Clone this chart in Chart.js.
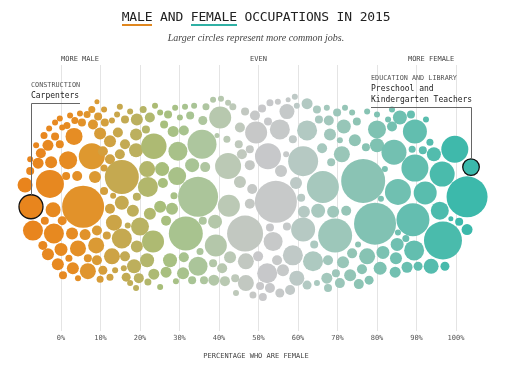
<!DOCTYPE html>
<html>
<head>
<meta charset="utf-8">
<script src="https://cdn.jsdelivr.net/npm/chart.js@4/dist/chart.umd.min.js"></script>
<style>
  body { margin: 0; background: #fff; }
  #wrap { position: relative; width: 512px; height: 375px; overflow: hidden; }
  #c { position: absolute; left: 0; top: 0; }
  .title { position: absolute; left: 0; width: 512px; top: 9px; text-align: center;
           font: 13px "DejaVu Sans Mono", monospace; color: #222; letter-spacing: -0.15px; }
  .title .m { border-bottom: 2px solid #e0871f; }
  .title .f { border-bottom: 2px solid #2fb0a4; }
  .sub { position: absolute; left: 0; width: 512px; top: 32px; text-align: center;
         font: italic 10px "Liberation Serif", serif; color: #444; }
</style>
</head>
<body>
<div id="wrap">
  <canvas id="c" width="512" height="375"></canvas>
  <div class="title"><span class="m">MALE</span> AND <span class="f">FEMALE</span> OCCUPATIONS IN 2015</div>
  <div class="sub">Larger circles represent more common jobs.</div>
</div>
<script>
// x = percentage who are female, y = vertical position in the swarm, r = job size
// first two entries are the labelled jobs (Carpenters, Preschool and Kindergarten Teachers)
var pctFemale = [
  -7.6, 103.8,
  -9.1, -7.1, -2.8, 5.6, 7.8, 1.8, 3.3, -2.0, -1.8, -5.8, -2.5, -3.3, -5.1, -1.5, -0.3, 0.3, 1.5, 3.5,
  5.3, 6.6, 2.3, 4.8, 7.8, 9.4, 8.1, -1.5, -0.3, 9.9, 11.1, 12.9, 14.4, 12.4, 14.2, 16.2, 19.2, 21.5, 22.5, 25.1,
  27.1, 16.2, 19.0, 19.0, 10.6, 14.9, 12.4, 10.9, 8.6, 4.1, 1.3, 15.4, 23.5, 21.8, 22.0, 25.1, 12.4, 15.4, 13.4, 18.2,
  20.0, 22.5, 23.3, 15.4, 9.1, 11.6, 8.9, 6.1, 2.8, 4.3, 0.0, -4.1, 0.3, -4.6, -3.3, -0.8, 2.0, 3.0, 6.8, 6.8,
  0.5, 4.3, 9.1, 10.6, 9.9, 12.4, 12.9, 13.7, 16.2, 15.9, 16.5, 18.5, 19.2, 21.8, 19.7, 17.5, 19.0, 22.0, 23.5, 26.6,
  27.6, -4.3, -3.0, -7.8, 10.9, 17.5, 20.8, 19.2, 10.9, 9.1, 14.9, -6.3, -7.8, 13.2, 16.9,
  28.4, 31.1, 29.6, 35.7, 33.2, 36.5, 29.4, 34.7, 31.6, 40.3, 35.9, 32.7, 30.1, 33.7, 36.7, 42.3, 26.1, 25.6, 25.8, 28.6,
  28.1, 26.6, 42.3, 42.0, 45.0, 45.8, 42.5, 39.0, 35.9, 39.2, 46.6, 35.2, 34.7, 38.5, 40.8, 42.8, 46.8, 46.8, 31.1, 30.9,
  29.1, 33.2, 36.2, 38.7, 41.5, 44.1, 43.5, 28.9, 23.8, 31.4, 38.5, 40.5, 39.5, 25.1, 44.3,
  52.4, 49.4, 55.4, 61.3, 62.3, 57.2, 62.3, 65.3, 67.8, 68.1, 66.1, 58.7, 52.4, 49.1, 50.9, 46.6, 45.3, 47.8, 47.8, 45.3,
  48.4, 54.4, 47.8, 55.7, 59.5, 66.3, 65.1, 61.5, 61.3, 69.4, 68.9, 53.7, 52.9, 57.2, 58.7, 63.8, 52.2, 49.9, 54.7, 56.2,
  59.7, 58.0, 55.4, 52.9, 51.1, 48.6, 50.4, 62.3, 64.8, 67.6, 67.3, 67.6, 70.6, 52.9, 54.9, 57.5, 59.2, 59.7, 64.8, 67.3,
  72.2, 57.0, 60.8, 64.1, 68.4,
  76.5, 79.5, 71.1, 71.6, 74.4, 69.9, 73.7, 74.9, 77.5, 80.0, 80.0, 80.0, 83.8, 85.8, 82.8, 84.3, 85.3, 89.6, 88.6, 89.6,
  88.9, 91.6, 94.4, 93.4, 99.7, 102.8, 96.5, 92.2, 89.1, 95.9, 96.7, 98.7, 100.8, 102.8, 85.1, 85.3, 87.3, 89.4, 93.7, 97.2,
  90.4, 87.6, 84.8, 84.6, 81.5, 80.8, 78.0, 75.4, 77.5, 73.7, 71.4, 73.2, 76.2, 75.2, 69.6, 81.0, 71.9, 70.6, 77.2, 82.0,
  83.8, 92.4
];
var swarmPos = [
  -3, 37,
  19, -27, 20, -3, 48, 44, 68, -6, -30, 41, 42, 59, 51, 68, 60, 77, 79, 84,
  82, 90, 89, 91, 95, 88, 80, 82, 86, 71, 82, 84, 72, 63, 90, 85, 85, 75, 87, 92,
  90, 60, 54, 70, 53, 50, 45, 36, 27, 28, 28, 27, 58, 35, 17, -3, -5, 1, -19, -7,
  -23, -10, -38, -35, -27, -32, -42, -31, -30, -45, -46, -17, -17, -42, -51, -61, -55, -65, -55, -68,
  -72, -75, -57, -67, -76, -74, -53, -67, -53, -65, -74, -63, -43, -57, -75, -80, -85, -79, -71, -69,
  -57, 69, 76, 33, 95, 93, 95, 7, 13, 103, 98, 59, 45, 8, -22,
  73, 74, 53, 60, 39, 37, 28, 7, -30, 87, 84, 89, 87, 99, 98, 102, 80, 35, 21, 8,
  -5, -17, 38, 65, 60, 50, -2, -18, -17, -42, -30, -48, -63, -60, -65, -54, -58, -80, -54, -70,
  -78, -77, -77, -77, -78, -75, 98, 97, 99, 98, 105, 106, 69, -84, -90,
  48, 72, 75, 43, 74, 93, 101, 85, 84, 70, 56, 65, 83, 89, 96, 93, 77, 55, 39, 22,
  15, 2, 0, 33, 21, 17, -7, -8, -26, -32, -8, -38, -24, -23, -52, -58, -70, -53, -57, -67,
  -75, -87, -90, -85, -94, -92, -83, -82, -80, -57, -75, -85, -80, 102, 103, 105, 108, 99, 95, 97,
  -7, 50, 6, -41, 42,
  23, -20, 50, 78, 64, 92, 92, 83, 93, 75, 90, 59, 78, 87, 85, 52, 12, 73, 90, 36,
  55, 54, 50, 62, 55, 7, 30, 11, -16, -7, -37, -15, -18, -26, -41, -29, -35, -47, -63, -63,
  -63, -64, -55, -69, -49, -65, -77, -81, -53, -50, -59, -72, -66, -41, -70, 5, 97, 64, 57, 35,
  95, 85
];
var jobSize = [
  12, 8.3,
  7.5, 10, 14, 21, 13, 9, 8.5, 7.5, 10, 5.5, 6, 5.5, 5, 4, 4, 3, 3.5, 3.5,
  4, 3.5, 3, 3, 3.5, 4, 5, 3, 3, 6, 4, 3, 5, 6, 3, 4, 6, 4, 5, 3,
  4, 5, 7, 6, 5, 5, 5, 3.5, 6, 5, 4, 17, 12.7, 8, 10, 6, 5, 7, 8, 6,
  9, 6, 11, 10, 5, 4, 8, 5.5, 6, 8, 6.5, 4, 4.5, 4.5, 6, 6, 3.5, 6, 4, 8,
  4, 3, 5, 4.5, 3.5, 3.5, 8, 3, 5, 3, 4.5, 7, 6, 7, 5, 3, 3, 3.5, 5.5, 5.5,
  7, 3.5, 3, 4, 3, 3, 3.5, 4, 4, 2.5, 3, 3, 3, 3, 3,
  5.5, 5, 9.5, 14.5, 7, 5, 9, 20, 17, 11, 4.5, 4, 3, 3, 3.5, 3, 4, 7, 5, 3.5,
  6, 5, 13, 3.5, 4, 5, 11, 7, 4, 11, 18, 3.5, 9.5, 4, 5, 6, 8, 8, 5, 6,
  3, 4, 4, 5.5, 5, 4, 3.5, 3, 3, 3, 3, 3, 2.5, 3, 3,
  13, 11, 10, 15, 10, 7.5, 5.5, 4, 5, 6, 5, 4, 4, 5, 4, 4, 5, 4, 5, 6,
  5, 21, 5, 6, 6, 16, 7, 6, 12, 17, 6, 9.5, 4, 4, 10, 10, 10, 5, 5, 6,
  7.5, 5, 4.5, 5, 4, 3.5, 4, 4.5, 3, 5, 5.5, 4, 5, 3.5, 3, 2.5, 3, 3, 4, 3,
  5, 3, 4, 4, 4,
  22, 21, 8, 7, 6, 4, 3, 4, 3, 9, 3, 7, 5, 7, 3, 12.5, 13, 12, 4, 13.5,
  3.5, 4, 7, 3.5, 13.5, 20.5, 12.5, 11.5, 16.5, 9, 19, 2.5, 4, 5.5, 6.5, 3, 3.5, 10, 7.5, 4.5,
  4.5, 5.5, 6, 5.5, 6.5, 6.5, 4.5, 5, 8, 5, 6, 6, 5, 3, 4, 3, 3, 3, 4, 3,
  3, 3
];
var xTicks = [0, 10, 20, 30, 40, 50, 60, 70, 80, 90, 100];
var sideLabels = [
  { text: "MORE MALE", at: 4.8 },
  { text: "EVEN", at: 50 },
  { text: "MORE FEMALE", at: 93.7 }
];
var callouts = [
  { index: 0, group: "CONSTRUCTION", lines: ["Carpenters"], side: "right" },
  { index: 1, group: "EDUCATION AND LIBRARY", lines: ["Preschool and", "Kindergarten Teachers"], side: "left" }
];

// colour runs from orange (male) through grey to teal (female)
var colorStops = [
  [-10, [233, 131, 28]], [3, [230, 140, 35]], [8, [222, 152, 48]], [15, [198, 168, 78]],
  [20, [185, 178, 98]], [25, [168, 190, 122]], [33, [168, 196, 148]], [42, [186, 201, 180]],
  [50, [200, 200, 202]], [57, [198, 201, 201]], [64, [172, 201, 192]], [75, [142, 196, 180]],
  [88, [104, 191, 176]], [100, [62, 185, 171]], [110, [55, 184, 170]]
];
function colorFor(p) {
    for (var i = 0; i < colorStops.length - 1; i++) {
        var a = colorStops[i], b = colorStops[i + 1];
        if (p <= b[0]) {
            var t = Math.max(0, (p - a[0]) / (b[0] - a[0]));
            var c = a[1].map(function (v, k) { return Math.round(v + (b[1][k] - v) * t); });
            return "rgb(" + c.join(",") + ")";
        }
    }
    return "rgb(55,184,170)";
}

var points = pctFemale.map(function (p, i) {
    return { x: p, y: swarmPos[i], r: jobSize[i] };
});
var isCallout = function (i) { return i === 0 || i === 1; };

var mono = "'DejaVu Sans Mono', monospace";

var annotate = {
    id: "annotate",
    afterDraw: function (chart) {
        var ctx = chart.ctx;
        var xs = chart.scales.x;
        ctx.save();
        ctx.font = "7px " + mono;
        ctx.fillStyle = "#444";
        ctx.textAlign = "center";
        ctx.textBaseline = "middle";
        sideLabels.forEach(function (s) {
            ctx.fillText(s.text, xs.getPixelForValue(s.at), 59);
        });

        var meta = chart.getDatasetMeta(0);
        callouts.forEach(function (c) {
            var el = meta.data[c.index];
            var r = jobSize[c.index];
            var bx = el.x;
            var textX, lineY;
            if (c.side === "right") {
                textX = bx;
                lineY = 103;
            } else {
                textX = 371;
                lineY = 107;
            }
            ctx.textAlign = "left";
            ctx.font = "6.8px " + mono;
            ctx.fillStyle = "#555";
            var top = lineY - 7 - c.lines.length * 11;
            ctx.fillText(c.group, textX, top);
            ctx.font = "8px " + mono;
            ctx.fillStyle = "#222";
            c.lines.forEach(function (t, k) {
                ctx.fillText(t, textX, top + 11 + k * 11);
            });
            ctx.strokeStyle = "#666";
            ctx.lineWidth = 1;
            ctx.beginPath();
            ctx.moveTo(Math.round(bx) + 0.5, el.y - r);
            ctx.lineTo(Math.round(bx) + 0.5, lineY + 0.5);
            if (c.side === "right") {
                ctx.lineTo(bx + 49, lineY + 0.5);
            } else {
                ctx.lineTo(textX, lineY + 0.5);
            }
            ctx.stroke();
        });
        ctx.restore();
    }
};

var ctx = document.getElementById("c").getContext("2d");
var chart = new Chart(ctx, {
    type: "bubble",
    data: {
        datasets: [{
            data: points,
            backgroundColor: pctFemale.map(colorFor),
            borderColor: pctFemale.map(function (p, i) { return isCallout(i) ? "#111" : "rgba(0,0,0,0)"; }),
            borderWidth: pctFemale.map(function (p, i) { return isCallout(i) ? 1.3 : 0; })
        }]
    },
    options: {
        responsive: false,
        animation: false,
        events: [],
        layout: { autoPadding: false, padding: { top: 65, bottom: 15, left: 0, right: 0 } },
        plugins: { legend: { display: false }, tooltip: { enabled: false } },
        scales: {
            x: {
                type: "linear",
                min: -61 / 3.95,
                max: (512 - 61) / 3.95,
                afterBuildTicks: function (scale) {
                    scale.ticks = xTicks.map(function (v) { return { value: v }; });
                },
                grid: { color: "#e4e4e4", drawTicks: false },
                border: { display: false },
                ticks: {
                    autoSkip: false,
                    maxRotation: 0,
                    padding: 3,
                    color: "#555",
                    font: { family: mono, size: 7 },
                    callback: function (v) { return v + "%"; }
                },
                title: {
                    display: true,
                    text: "PERCENTAGE WHO ARE FEMALE",
                    color: "#444",
                    font: { family: mono, size: 7 },
                    padding: { top: 6.5, bottom: 0 }
                }
            },
            y: { display: false, min: -128, max: 140 }
        }
    },
    plugins: [annotate]
});
</script>
</body>
</html>
